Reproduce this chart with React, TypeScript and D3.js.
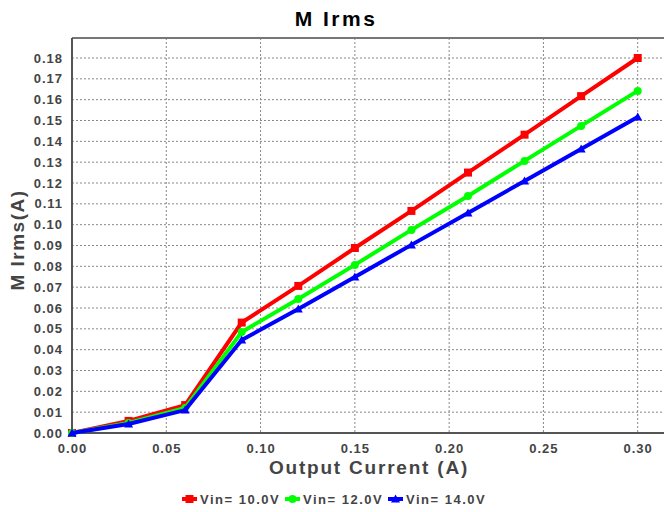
import React from "react";
import * as d3 from "d3";

const xValues = [0, 0.03, 0.06, 0.09, 0.12, 0.15, 0.18, 0.21, 0.24, 0.27, 0.3];
const vin10 = [0.0, 0.0058, 0.0134, 0.0530, 0.0706, 0.0888, 0.1066, 0.1250, 0.1432, 0.1617, 0.1800];
const vin12 = [0.0, 0.0048, 0.0120, 0.0485, 0.0643, 0.0807, 0.0975, 0.1138, 0.1306, 0.1474, 0.1642];
const vin14 = [0.0, 0.0043, 0.0110, 0.0446, 0.0595, 0.0749, 0.0903, 0.1056, 0.1210, 0.1363, 0.1517];
const seriesNames = ["Vin= 10.0V", "Vin= 12.0V", "Vin= 14.0V"];
const seriesColors = ["#ff0000", "#00ff00", "#0000ff"];
const xTicks = [0, 0.05, 0.1, 0.15, 0.2, 0.25, 0.3];
const yTicks = d3.range(0, 0.1801, 0.01);

const W = 664;
const H = 512;
const left = 72;
const right = 664;
const top = 38;
const bottom = 433;

export default function App() {
  const x = d3.scaleLinear().domain([0, 0.3]).range([left, 637.7]);
  const y = d3.scaleLinear().domain([0, 0.18]).range([bottom, 58]);
  const series = [vin10, vin12, vin14];
  const line = d3
    .line<number>()
    .x((_, i) => x(xValues[i]))
    .y((d) => y(d));
  const font = "'Liberation Sans', Arial, sans-serif";
  const sym = (k: number, cx: number, cy: number, key: string) => {
    const c = seriesColors[k];
    if (k === 0) return <rect key={key} x={cx - 4} y={cy - 4} width={8} height={8} fill={c} />;
    if (k === 1) return <circle key={key} cx={cx} cy={cy} r={4} fill={c} />;
    return <path key={key} d={`M${cx},${cy - 4.5}L${cx + 4.5},${cy + 3.5}L${cx - 4.5},${cy + 3.5}Z`} fill={c} />;
  };
  const legendX = [182, 285, 388];
  return (
    <svg width={W} height={H} style={{ position: "absolute", left: 0, top: 0 }} fontFamily={font}>
      <rect x={0} y={0} width={W} height={H} fill="#fff" />
      <text x={336} y={26} textAnchor="middle" fontSize={21} fontWeight="bold" fill="#000" letterSpacing={2.5}>M Irms</text>
      {/* grid */}
      {yTicks.slice(1).map((t) => (
        <line key={"gy" + t} x1={left} x2={right} y1={y(t)} y2={y(t)} stroke="#888" strokeWidth={1} strokeDasharray="2,2" />
      ))}
      {xTicks.slice(1).map((t) => (
        <line key={"gx" + t} x1={x(t)} x2={x(t)} y1={top} y2={bottom} stroke="#888" strokeWidth={1} strokeDasharray="2,2" />
      ))}
      {/* frame */}
      <line x1={left} x2={right} y1={top} y2={top} stroke="#777" strokeWidth={2} />
      <line x1={left} x2={left} y1={top} y2={bottom} stroke="#555" strokeWidth={2} />
      <line x1={left} x2={right} y1={bottom} y2={bottom} stroke="#555" strokeWidth={2} />
      {/* y ticks */}
      {yTicks.map((t) => (
        <text key={"ty" + t} x={63} y={y(t) + 4.5} textAnchor="end" fontSize={13} fontWeight="bold" fill="#444" letterSpacing={1}>
          {t.toFixed(2)}
        </text>
      ))}
      {xTicks.map((t) => (
        <text key={"tx" + t} x={x(t) + 0.5} y={453} textAnchor="middle" fontSize={13} fontWeight="bold" fill="#444" letterSpacing={1}>
          {t.toFixed(2)}
        </text>
      ))}
      <text x={369} y={474} textAnchor="middle" fontSize={19} fontWeight="bold" fill="#444" letterSpacing={1.8}>Output Current (A)</text>
      <text transform={`translate(24,240) rotate(-90)`} textAnchor="middle" fontSize={19} fontWeight="bold" fill="#444" letterSpacing={1.5}>M Irms(A)</text>
      {/* lines */}
      {series.map((s, k) => (
        <g key={"s" + k}>
          <path d={line(s) || ""} fill="none" stroke={seriesColors[k]} strokeWidth={4} strokeLinejoin="miter" />
          {s.map((v, i) => sym(k, x(xValues[i]), y(v), "m" + k + "-" + i))}
        </g>
      ))}
      {/* legend */}
      {seriesNames.map((n, k) => (
        <g key={"l" + k}>
          <line x1={legendX[k]} x2={legendX[k] + 15} y1={499} y2={499} stroke={seriesColors[k]} strokeWidth={4} />
          {sym(k, legendX[k] + 7.5, 499, "lm" + k)}
          <text x={legendX[k] + 18} y={504} fontSize={13} fontWeight="bold" fill="#444" letterSpacing={1.5}>{n}</text>
        </g>
      ))}
    </svg>
  );
}
